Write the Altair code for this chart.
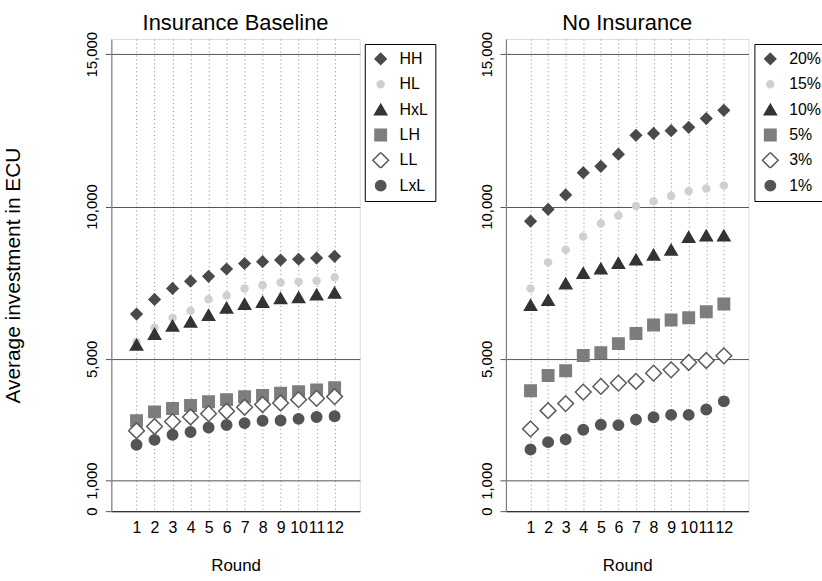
import altair as alt
import pandas as pd

FONT = "Liberation Sans"

rounds = list(range(1, 13))

# Insurance Baseline: average investment per round
base_groups = ["HH", "HL", "HxL", "LH", "LL", "LxL"]
hh = [6470, 6950, 7310, 7550, 7710, 7950, 8130, 8190, 8245, 8270, 8310, 8365]
hl = [5550, 6020, 6350, 6580, 6960, 7080, 7310, 7420, 7505, 7530, 7560, 7680]
hxl = [5460, 5820, 6090, 6220, 6440, 6680, 6800, 6870, 6990, 7020, 7110, 7170]
lh = [2970, 3260, 3370, 3470, 3590, 3660, 3760, 3800, 3870, 3920, 3980, 4050]
ll = [2640, 2780, 2940, 3090, 3200, 3280, 3410, 3500, 3550, 3660, 3700, 3760]
lxl = [2180, 2340, 2510, 2600, 2745, 2830, 2890, 2970, 2975, 3030, 3090, 3115]

# No Insurance: average investment per round by loss probability
noins_groups = ["20%", "15%", "10%", "5%", "3%", "1%"]
p20 = [9520, 9910, 10380, 11110, 11320, 11720, 12340, 12400, 12490, 12600, 12890, 13160]
p15 = [7310, 8170, 8585, 9020, 9445, 9705, 10020, 10175, 10350, 10510, 10590, 10690]
p10 = [6765, 6930, 7475, 7820, 7965, 8150, 8260, 8420, 8585, 9000, 9050, 9050]
p5 = [3955, 4455, 4610, 5110, 5205, 5500, 5830, 6110, 6275, 6350, 6545, 6800]
p3 = [2700, 3300, 3530, 3910, 4095, 4205, 4260, 4530, 4640, 4880, 4945, 5100]
p1 = [2025, 2265, 2355, 2670, 2835, 2825, 3005, 3085, 3160, 3160, 3335, 3605]

y_ticks = [0, 1000, 5000, 10000, 15000]

# marker styling shared by both panels (same order as the series)
shapes = ["diamond", "circle", "triangle-up", "square", "diamond", "circle"]
fills = ["#4a4a4a", "#d0d0d0", "#333333", "#7d7d7d", "#ffffff", "#545454"]
strokes = ["#4a4a4a", "#d0d0d0", "#333333", "#7d7d7d", "#5a5a5a", "#545454"]
sizes = [125, 50, 150, 132, 250, 110]


def long_table(groups, series):
    rows = []
    for g, vals in zip(groups, series):
        for r, v in zip(rounds, vals):
            rows.append({"round": r, "value": v, "group": g})
    return pd.DataFrame(rows)


def panel(df, groups, title, width, y_title, legend_x):
    legend = alt.Legend(
        orient="none", legendX=legend_x, legendY=5, title=None,
        strokeColor="#000000", fillColor="#ffffff", padding=7,
        rowPadding=9.5, clipHeight=16, labelFontSize=16, labelFont=FONT,
        labelColor="#000000", labelOffset=10, symbolStrokeWidth=1.5,
    )
    x_axis = alt.Axis(
        values=rounds, title="Round", titleFont=FONT, titleFontSize=17,
        titleFontWeight="normal", titleColor="#000000", titlePadding=23,
        labelFont=FONT, labelFontSize=16, labelColor="#000000",
        labelPadding=8, labelOverlap=False, labelFlush=False,
        ticks=False, domainColor="#333333", domainWidth=1.2,
        grid=True, gridColor="#8a8a8a", gridDash=[1, 3], gridWidth=1,
    )
    y_kwargs = dict(
        values=y_ticks, format=",d", labelAngle=-90, labelAlign="center",
        labelBaseline="bottom", labelFont=FONT, labelFontSize=15,
        labelColor="#000000", labelPadding=6, labelOverlap=False,
        labelFlush=False, tickSize=6, tickColor="#555555",
        domainColor="#808080", domainWidth=1.2,
        grid=True, gridColor="#555555", gridWidth=1,
    )
    if y_title:
        y_axis = alt.Axis(
            title=y_title, titleFont=FONT, titleFontSize=21,
            titleFontWeight="normal", titleColor="#000000", titlePadding=61,
            **y_kwargs,
        )
    else:
        y_axis = alt.Axis(title=None, **y_kwargs)

    return alt.Chart(df).mark_point(
        filled=False, opacity=1, strokeWidth=1.5
    ).encode(
        x=alt.X("round:Q", axis=x_axis,
                scale=alt.Scale(domain=[-0.4, 13.4], nice=False, zero=False)),
        y=alt.Y("value:Q", axis=y_axis,
                scale=alt.Scale(domain=[0, 15500], nice=False)),
        shape=alt.Shape("group:N", legend=legend,
                        scale=alt.Scale(domain=groups, range=shapes)),
        fill=alt.Fill("group:N", legend=legend,
                      scale=alt.Scale(domain=groups, range=fills)),
        stroke=alt.Stroke("group:N", legend=legend,
                          scale=alt.Scale(domain=groups, range=strokes)),
        size=alt.Size("group:N", legend=legend,
                      scale=alt.Scale(type="ordinal", domain=groups,
                                      range=sizes)),
        order=alt.Order("idx:Q"),
    ).transform_calculate(
        idx="indexof(" + str(groups) + ", datum.group) * 100 + datum.round"
    ).properties(
        width=width, height=475,
        title=alt.TitleParams(title, font=FONT, fontSize=22,
                              fontWeight="normal", color="#000000",
                              anchor="middle", frame="group", offset=-3.5),
    )


base_df = long_table(base_groups, [hh, hl, hxl, lh, ll, lxl])
noins_df = long_table(noins_groups, [p20, p15, p10, p5, p3, p1])

left = panel(base_df, base_groups, "Insurance Baseline", 250,
             "Average investment in ECU", 255)
right = panel(noins_df, noins_groups, "No Insurance", 244, None, 250)

chart = alt.hconcat(left, right, spacing=42).resolve_scale(
    shape="independent", fill="independent",
    stroke="independent", size="independent",
).resolve_legend(
    shape="independent", fill="independent",
    stroke="independent", size="independent",
).configure_view(
    stroke=None
).configure(
    background="#ffffff"
).properties(
    padding={"left": 2, "top": 9.5, "right": -8, "bottom": 0}
)

chart.save("out.html", embed_options={"renderer": "svg", "actions": False})
